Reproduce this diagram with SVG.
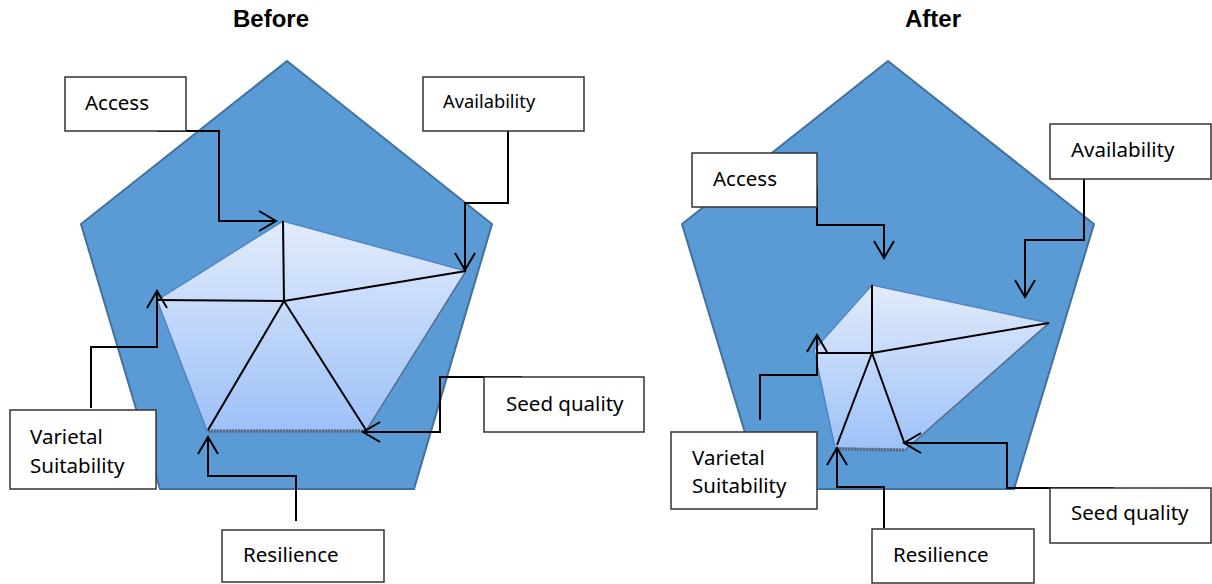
<svg xmlns="http://www.w3.org/2000/svg" width="1212" height="584" viewBox="0 0 1212 584">
<style>
.title{font-family:"Liberation Sans",Arial,sans-serif;font-weight:bold;font-size:24px;fill:#000}
.lbl{font-family:"Noto Sans","Open Sans",sans-serif;font-size:20.5px;fill:#000}
.box{fill:#fff;stroke:#333;stroke-width:1.5}
.pent{fill:#5B9BD5;stroke:#41719C;stroke-width:2}
.inner{fill:url(#g);stroke:#4F86C6;stroke-width:1.5}
.shadow{stroke:#5f6f82;stroke-width:3.5;stroke-dasharray:2 1;fill:none}
.thin{stroke:#5d6f84;stroke-width:1.3;fill:none}
.axis{stroke:#000;stroke-width:2;fill:none}
.con{stroke:#000;stroke-width:2;fill:none;marker-end:url(#ah)}
</style>
<defs>
<linearGradient id="g" x1="0" y1="0" x2="0" y2="1">
<stop offset="0" stop-color="#E2EBFB"/>
<stop offset="1" stop-color="#9DC1F8"/>
</linearGradient>
<marker id="ah" markerUnits="userSpaceOnUse" markerWidth="40" markerHeight="40" refX="0" refY="0" viewBox="-20 -20 40 40" orient="auto" overflow="visible">
<path d="M-17,-10 L0,0 L-17,10" fill="none" stroke="#000" stroke-width="2"/>
</marker>
</defs>

<text class="title" x="271" y="27" text-anchor="middle">Before</text>
<text class="title" x="933" y="27" text-anchor="middle">After</text>

<g id="before-chart">
<polygon class="pent" points="287,61 492,224 414,489 160,489 81,224"/>
<polygon class="inner" points="283,221 466,271 366,431 207,431 157,300"/>
<line class="thin" x1="366" y1="431" x2="466" y2="271"/>
<line class="shadow" x1="208" y1="431" x2="366" y2="431"/>
<g class="axis">
<line x1="284" y1="301" x2="283" y2="221"/>
<line x1="284" y1="301" x2="466" y2="271"/>
<line x1="284" y1="301" x2="157" y2="300"/>
<line x1="284" y1="301" x2="208" y2="430"/>
<line x1="284" y1="301" x2="366" y2="430"/>
</g>
</g>

<g id="after-chart">
<polygon class="pent" points="888,61 1094,224 1014,489 762,489 682,224"/>
<polygon class="inner" points="872,285 1049,323 905,450 835,448 814,350"/>
<line class="thin" x1="905" y1="450" x2="1049" y2="323"/>
<line class="shadow" x1="836" y1="449" x2="905" y2="450"/>
<g class="axis">
<line x1="872" y1="353" x2="872" y2="285"/>
<line x1="872" y1="353" x2="1049" y2="323"/>
<line x1="872" y1="353" x2="817" y2="353"/>
<line x1="872" y1="353" x2="837" y2="445"/>
<line x1="872" y1="353" x2="904" y2="442"/>
</g>
</g>

<g id="connectors">
<path class="con" d="M157,131 H219 V221 H276"/>
<path class="con" d="M508,131 V203 H465 V270"/>
<path class="con" d="M91,408 V347 H157 V291"/>
<path class="con" d="M296,521 V476 H208 V437"/>
<path class="con" d="M522,377 H440 V432 H363"/>
<path class="con" d="M817,187 V225 H884 V258"/>
<path class="con" d="M1084,179 V240 H1025 V297"/>
<path class="con" d="M760,420 V375 H817 V335"/>
<path class="con" d="M884,528 V487 H837 V448"/>
<path class="con" d="M1114,488 H1007 V443 H904"/>
</g>

<g id="before-access"><rect class="box" x="65" y="77" width="121" height="54"/><text class="lbl" x="85" y="110">Access</text></g>
<g id="before-availability"><rect class="box" x="423" y="77" width="161" height="54"/><text class="lbl" x="443" y="108" style="font-size:18.3px">Availability</text></g>
<g id="before-seed-quality"><rect class="box" x="484" y="377" width="160" height="55"/><text class="lbl" x="506" y="411">Seed quality</text></g>
<g id="before-varietal"><rect class="box" x="10" y="410" width="146" height="79"/><text class="lbl" x="30" y="444">Varietal</text><text class="lbl" x="30" y="473">Suitability</text></g>
<g id="before-resilience"><rect class="box" x="222" y="530" width="162" height="52"/><text class="lbl" x="243" y="562">Resilience</text></g>

<g id="after-access"><rect class="box" x="692" y="153" width="125" height="54"/><text class="lbl" x="713" y="186">Access</text></g>
<g id="after-availability"><rect class="box" x="1050" y="124" width="161" height="55"/><text class="lbl" x="1071" y="157">Availability</text></g>
<g id="after-varietal"><rect class="box" x="671" y="432" width="146" height="77"/><text class="lbl" x="692" y="465">Varietal</text><text class="lbl" x="692" y="493">Suitability</text></g>
<g id="after-resilience"><rect class="box" x="872" y="529" width="162" height="54"/><text class="lbl" x="893" y="562">Resilience</text></g>
<g id="after-seed-quality"><rect class="box" x="1050" y="488" width="161" height="55"/><text class="lbl" x="1071" y="520">Seed quality</text></g>
</svg>
